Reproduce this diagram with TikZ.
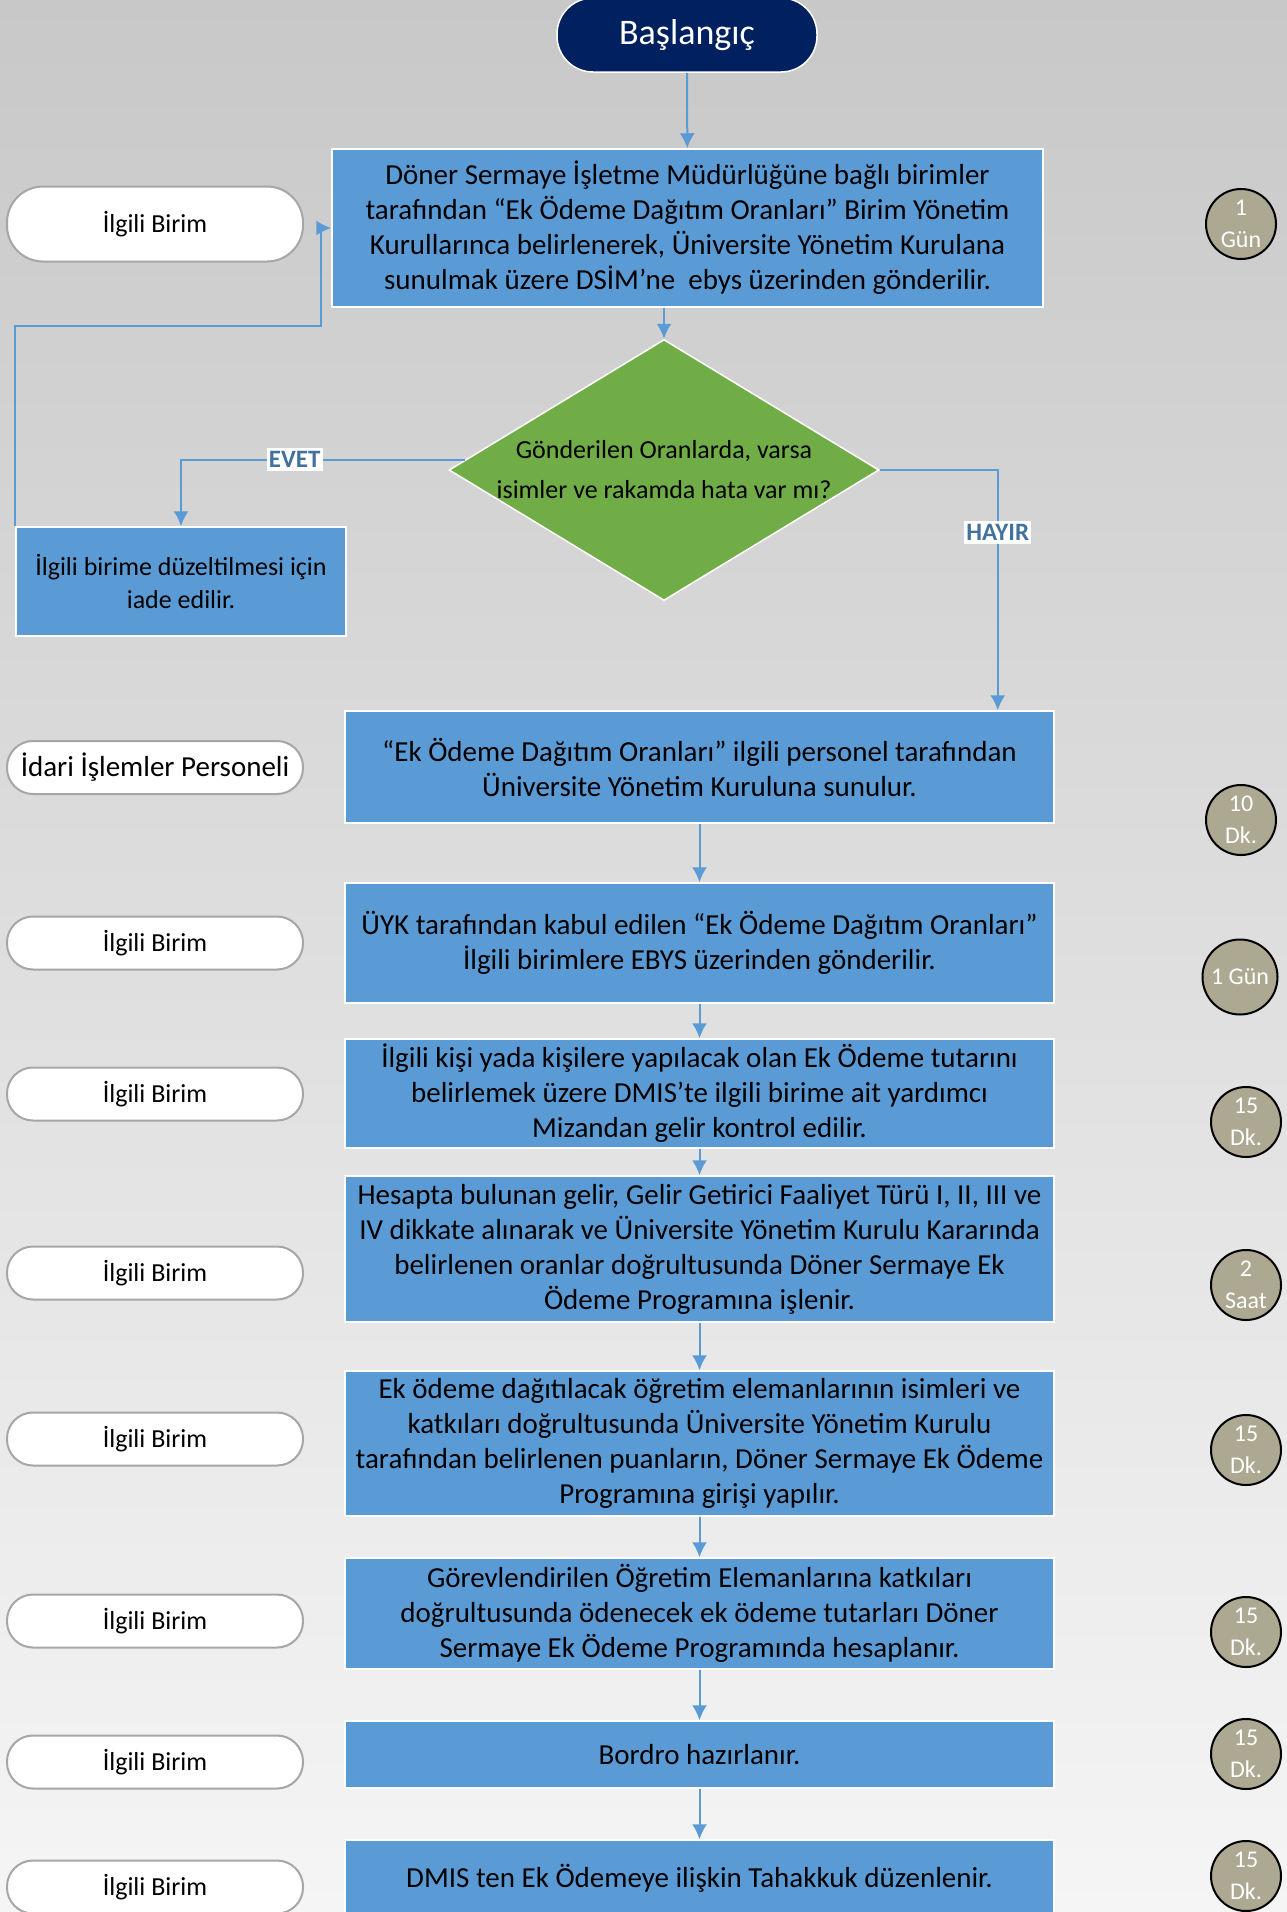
\documentclass[tikz,border=0pt]{standalone}
\usepackage{fontspec}
\setmainfont{Carlito}
\usepackage{tikz}
\usetikzlibrary{arrows.meta,shapes.geometric,positioning,calc}
\definecolor{boxblue}{HTML}{5B9BD5}
\definecolor{decgreen}{HTML}{70AD47}
\definecolor{navy}{HTML}{002060}
\definecolor{khaki}{HTML}{ADA891}
\definecolor{lblblue}{HTML}{41719C}
\definecolor{pillgray}{HTML}{A6A6A6}
\definecolor{bgtop}{HTML}{C8C8C8}
\definecolor{bgbot}{HTML}{F5F5F5}

\begin{document}
\begin{tikzpicture}[x=1pt,y=-1pt,
    stepbox/.style={draw=white, line width=1.5pt, fill=boxblue, align=center, inner sep=2pt, minimum width=709, font=\fontsize{29}{35}\selectfont},
    pill/.style={draw=pillgray, line width=2pt, fill=white, rounded corners=26pt, minimum width=296, minimum height=53, font=\fontsize{26}{30}\selectfont},
    timer/.style={circle, draw=black, line width=2pt, fill=khaki, text=white, inner sep=0pt, minimum size=70, align=center, font=\fontsize{24}{32}\selectfont},
    flow/.style={draw=boxblue, line width=2pt, -{Latex[length=15pt,width=15pt]}},
    lbl/.style={fill=white, text=lblblue, inner xsep=2pt, inner ysep=3.5pt, font=\fontsize{25}{28}\selectfont\bfseries}]
  \useasboundingbox (0,0) rectangle (1287,1912);
  \shade[top color=bgtop, bottom color=bgbot] (0,0) rectangle (1287,1912);

  % start and first step
  \node[draw=white, line width=1.5pt, fill=navy, text=white, rounded corners=36pt, minimum width=260, minimum height=74, font=\fontsize{36}{40}\selectfont] (start) at (687,35) {Başlangıç};
  \node[stepbox, minimum width=711, minimum height=158] (b1) at (687.5,228) {Döner Sermaye İşletme Müdürlüğüne bağlı birimler\\tarafından “Ek Ödeme Dağıtım Oranları” Birim Yönetim\\Kurullarınca belirlenerek, Üniversite Yönetim Kurulana\\sunulmak üzere DSİM’ne~ ebys üzerinden gönderilir.};

  % decision
  \node[diamond, draw=white, line width=1.5pt, fill=decgreen, aspect=1.65, inner sep=-6pt, minimum width=430, minimum height=261, align=center, font=\fontsize{26}{40}\selectfont] (dia) at (664,470) {Gönderilen Oranlarda, varsa\\isimler ve rakamda hata var mı?};
  \node[stepbox, minimum width=330, minimum height=109, font=\fontsize{26}{33}\selectfont] (ret) at (181,581.5) {İlgili birime düzeltilmesi için\\iade edilir.};

  % main steps
  \node[stepbox, minimum height=112] (b3) at (699.5,767) {“Ek Ödeme Dağıtım Oranları” ilgili personel tarafından\\Üniversite Yönetim Kuruluna sunulur.};
  \node[stepbox, minimum height=120] (b4) at (699.5,943) {ÜYK tarafından kabul edilen “Ek Ödeme Dağıtım Oranları”\\İlgili birimlere EBYS üzerinden gönderilir.};
  \node[stepbox, minimum height=109] (b5) at (699.5,1093.5) {İlgili kişi yada kişilere yapılacak olan Ek Ödeme tutarını\\belirlemek üzere DMIS’te ilgili birime ait yardımcı\\Mizandan gelir kontrol edilir.};
  \node[stepbox, minimum height=146] (b6) at (699.5,1249) {Hesapta bulunan gelir, Gelir Getirici Faaliyet Türü I, II, III ve\\IV dikkate alınarak ve Üniversite Yönetim Kurulu Kararında\\belirlenen oranlar doğrultusunda Döner Sermaye Ek\\Ödeme Programına işlenir.};
  \node[stepbox, minimum height=145] (b7) at (699.5,1443.5) {Ek ödeme dağıtılacak öğretim elemanlarının isimleri ve\\katkıları doğrultusunda Üniversite Yönetim Kurulu\\tarafından belirlenen puanların, Döner Sermaye Ek Ödeme\\Programına girişi yapılır.};
  \node[stepbox, minimum height=111] (b8) at (699.5,1613.5) {Görevlendirilen Öğretim Elemanlarına katkıları\\doğrultusunda ödenecek ek ödeme tutarları Döner\\Sermaye Ek Ödeme Programında hesaplanır.};
  \node[stepbox, minimum height=67] (b9) at (699.5,1754.5) {Bordro hazırlanır.};
  \node[stepbox, minimum height=76] (b10) at (699.5,1878) {DMIS ten Ek Ödemeye ilişkin Tahakkuk düzenlenir.};

  % responsible units
  \node[pill, rounded corners=36pt, minimum height=75] (p1) at (155,224) {İlgili Birim};
  \node[pill, font=\fontsize{29}{33}\selectfont] (p2) at (155,767.5) {İdari İşlemler Personeli};
  \foreach \i/\y in {3/943,4/1094,5/1273,6/1439,7/1621,8/1762,9/1887}
    \node[pill] (p\i) at (155,\y) {İlgili Birim};

  % durations
  \foreach \i/\x/\y/\t in {1/1241/224/1\\Gün, 2/1241/820/10\\Dk., 4/1246/1122/15\\Dk., 5/1246/1285/2\\Saat, 6/1246/1450/15\\Dk., 7/1246/1632/15\\Dk., 8/1246/1754/15\\Dk., 9/1246/1876/15\\Dk.}
    \node[timer] (t\i) at (\x,\y) {\t};
  \node[timer, minimum size=75] (t3) at (1240,977) {1 Gün};

  % connectors
  \draw[flow] (start) -- (b1);
  \draw[flow] (b1.south -| dia.north) -- (dia.north);
  \draw[flow] (dia.177) -| node[lbl, pos=0.3] (evet) {EVET} (ret.north);
  \draw[flow] (dia.east) -| node[lbl, pos=0.63] (hayir) {HAYIR} ([xshift=-57pt]b3.north east);
  \draw[flow] (ret.north west) -- ++(0,-200) -| ($(b1.west)+(-10,0)$) -- (b1.west);
  \foreach \a/\b in {b3/b4,b4/b5,b5/b6,b6/b7,b7/b8,b8/b9,b9/b10}
    \draw[flow] (\a) -- (\b);
\end{tikzpicture}
\end{document}
